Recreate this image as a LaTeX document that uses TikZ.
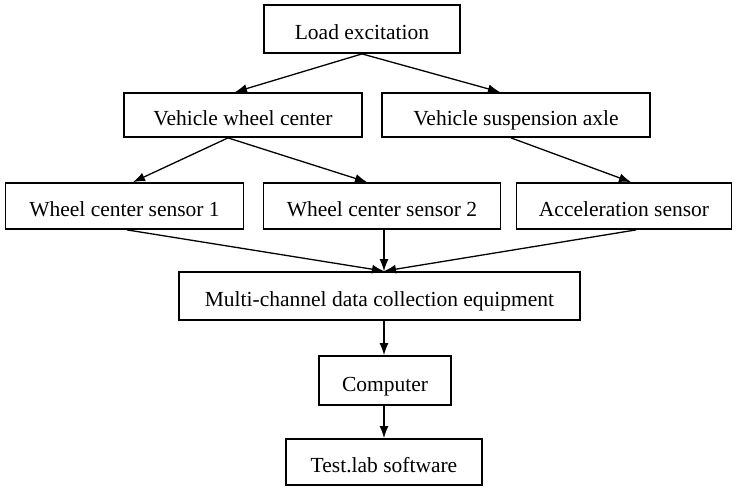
\documentclass[tikz,border=0pt]{standalone}
\usepackage{fontspec}
\setmainfont{Liberation Serif}
\usetikzlibrary{arrows.meta}
\begin{document}
\begin{tikzpicture}[x=1pt,y=-1pt,
  box/.style={draw, line width=1.8pt, rectangle, inner sep=0pt, text height=22pt, text depth=1pt, font=\fontsize{21.5}{23}\selectfont},
  arr/.style={line width=1.3pt, -{Latex[length=12pt,width=9pt]}}]
\useasboundingbox (0,0) rectangle (736,487);
\node[box, minimum width=196pt, minimum height=48pt] (load) at (362,29) {Load excitation};
\node[box, minimum width=238pt, minimum height=44pt] (vwc) at (243,115) {Vehicle wheel center};
\node[box, minimum width=268pt, minimum height=44pt] (vsa) at (516,115) {Vehicle suspension axle};
\node[box, minimum width=238pt, minimum height=46pt] (s1) at (124.5,206) {Wheel center sensor 1};
\node[box, minimum width=237pt, minimum height=46pt] (s2) at (382,206) {Wheel center sensor 2};
\node[box, minimum width=215pt, minimum height=46pt] (acc) at (624,206) {Acceleration sensor};
\node[box, minimum width=401pt, minimum height=48pt] (multi) at (379.5,296) {Multi-channel data collection equipment};
\node[box, minimum width=132pt, minimum height=49pt] (comp) at (385,380.5) {Computer};
\node[box, minimum width=196pt, minimum height=46pt] (test) at (384,462) {Test.lab software};

\coordinate (loadS) at (load.south);
\draw[arr] (loadS) -- (vwc.north -| 235,0);
\draw[arr] (loadS) -- (vsa.north -| 500,0);
\draw[arr] (vwc.south -| 228,0) -- (s1.north -| 133,0);
\draw[arr] (vwc.south -| 228,0) -- (s2.north -| 367,0);
\draw[arr] (vsa.south -| 511,0) -- (acc.north -| 631,0);
\coordinate (mtop) at (multi.north -| 384,0);
\draw[arr] (s1.south -| 127,0) -- (mtop);
\draw[arr] (s2.south -| 384,0) -- (mtop);
\draw[arr] (acc.south -| 636,0) -- (mtop);
\draw[arr] (multi.south -| 384,0) -- (comp.north -| 384,0);
\draw[arr] (comp.south -| 384,0) -- (test.north -| 384,0);
\end{tikzpicture}
\end{document}
